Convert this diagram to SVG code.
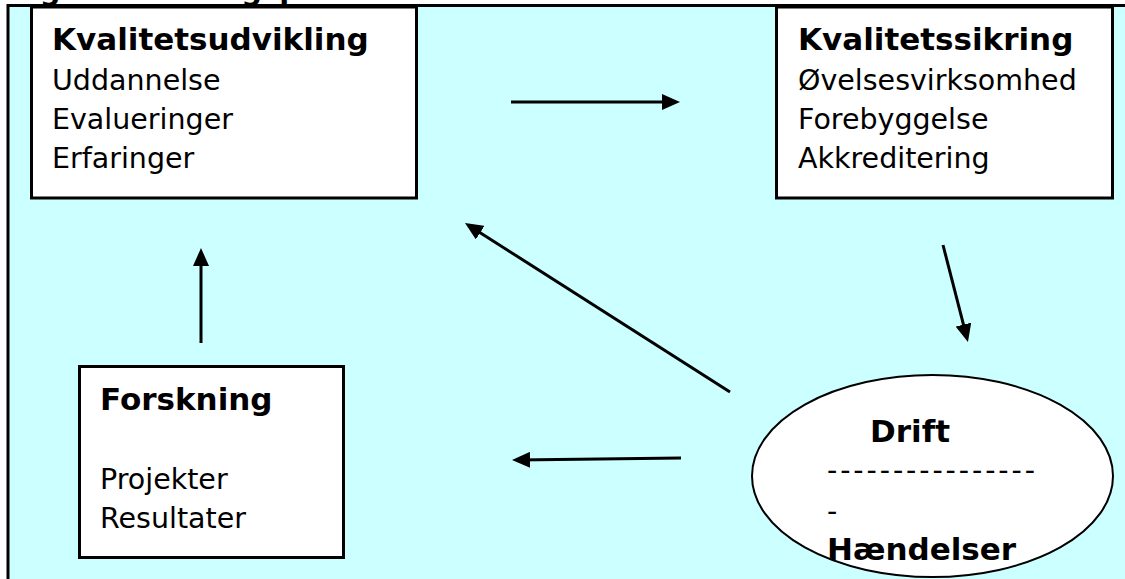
<svg xmlns="http://www.w3.org/2000/svg" width="1125" height="579" viewBox="0 0 1125 579">
<style>
.box{fill:#ffffff;stroke:#000;stroke-width:3}
.t{font-family:"DejaVu Sans",Verdana,sans-serif;font-size:28.5px;fill:#000}
.b{font-family:"DejaVu Sans",Verdana,sans-serif;font-size:31px;font-weight:bold;fill:#000}
.c{stroke:#000;stroke-width:3;fill:none;marker-end:url(#ah)}
</style>
<defs>
<marker id="ah" markerUnits="userSpaceOnUse" markerWidth="18" markerHeight="16" refX="13" refY="8" orient="auto">
<path d="M0,0 L18,8 L0,16 Z" fill="#000"/>
</marker>
</defs>
<text class="b" x="10" y="-0.5" style="font-size:29px">Figur 1: Læringsproces</text>
<rect x="8" y="5.5" width="1140" height="600" fill="#CCFFFF" stroke="#000" stroke-width="3"/>
<g id="kvalitetsudvikling">
<rect class="box" x="31.5" y="7" width="385" height="191"/>
<text class="b" x="52" y="50">Kvalitetsudvikling</text>
<text class="t" x="52" y="90">Uddannelse</text>
<text class="t" x="52" y="129">Evalueringer</text>
<text class="t" x="52" y="168">Erfaringer</text>
</g>
<g id="kvalitetssikring">
<rect class="box" x="776.5" y="7" width="336" height="191"/>
<text class="b" x="798" y="50">Kvalitetssikring</text>
<text class="t" x="798" y="90">Øvelsesvirksomhed</text>
<text class="t" x="798" y="129">Forebyggelse</text>
<text class="t" x="798" y="168">Akkreditering</text>
</g>
<g id="forskning">
<rect class="box" x="79.5" y="366.5" width="264" height="191"/>
<text class="b" x="100" y="410">Forskning</text>
<text class="t" x="100" y="489">Projekter</text>
<text class="t" x="100" y="528">Resultater</text>
</g>
<g id="drift">
<ellipse cx="932.5" cy="476" rx="180.5" ry="101" fill="#ffffff" stroke="#000" stroke-width="2"/>
<text class="b" x="870" y="442">Drift</text>
<text class="t" x="827" y="480" textLength="208" lengthAdjust="spacing">----------------</text>
<text class="t" x="827" y="521">-</text>
<text class="b" x="827" y="560">Hændelser</text>
</g>
<g id="connectors">
<line class="c" x1="511" y1="102" x2="675" y2="102"/>
<line class="c" x1="943" y1="245" x2="966.7" y2="337.2"/>
<line class="c" x1="730" y1="392" x2="469.2" y2="225.7"/>
<line class="c" x1="201" y1="343" x2="201" y2="253"/>
<line class="c" x1="681" y1="458" x2="517" y2="460"/>
</g>
</svg>
